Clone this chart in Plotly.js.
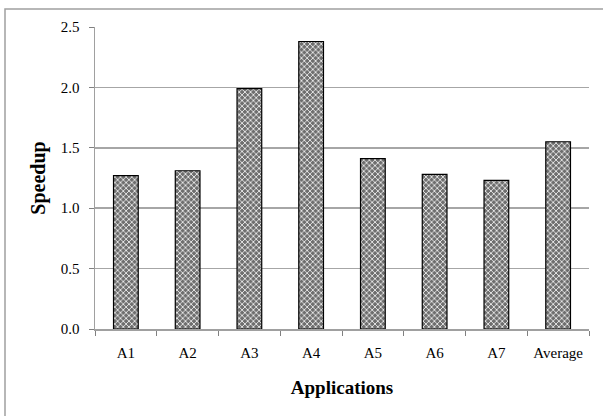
<!DOCTYPE html>
<html><head><meta charset="utf-8">
<script src="https://cdn.plot.ly/plotly-3.0.1.min.js"></script>
<style>body{margin:0;padding:0;background:#fff}#chart{width:603px;height:416px}</style>
</head><body><div id="chart"></div>
<script>
var categories = ['A1','A2','A3','A4','A5','A6','A7','Average'];
var speedup = [1.27, 1.31, 1.99, 2.38, 1.41, 1.28, 1.23, 1.55];
var yTicks = [0, 0.5, 1.0, 1.5, 2.0, 2.5];
var yTickLabels = ['0.0','0.5','1.0','1.5','2.0','2.5'];

var font = '"Liberation Serif", serif';
var trace = {
  type: 'bar', x: categories, y: speedup,
  marker: {
    color: '#777',
    line: {color: '#000', width: 1.2},
    pattern: {shape: 'x', fgcolor: '#ffffff', bgcolor: '#6e6e6e', size: 4, solidity: 0.35, fillmode: 'replace'}
  },
  hoverinfo: 'skip'
};
var layout = {
  width: 603, height: 416,
  margin: {l: 95, r: 14, t: 27, b: 87, pad: 0},
  paper_bgcolor: '#fff', plot_bgcolor: '#fff',
  showlegend: false, bargap: 0.6,
  font: {family: font, size: 15, color: '#000'},
  xaxis: {
    type: 'category', showgrid: false, showline: true, linecolor: '#a0a0a0', linewidth: 1.5,
    ticks: 'outside', tickson: 'boundaries', ticklen: 5, tickcolor: '#808080', tickwidth: 1,
    ticklabelstandoff: 9,
    tickfont: {family: font, size: 15, color: '#000'},
    title: {text: '<b>Applications</b>', font: {family: font, size: 19, color: '#000'}, standoff: 21}
  },
  yaxis: {
    range: [0, 2.5], tickvals: yTicks, ticktext: yTickLabels,
    showgrid: true, gridcolor: '#a6a6a6', gridwidth: 1.5, zeroline: false,
    showline: true, linecolor: '#a0a0a0', linewidth: 1.5,
    ticks: 'outside', ticklen: 5, tickcolor: '#808080', tickwidth: 1, ticklabelstandoff: 6,
    tickfont: {family: font, size: 15, color: '#000'},
    title: {text: '<b>Speedup</b>', font: {family: font, size: 20, color: '#000'}, standoff: 10}
  },
  shapes: [{
    type: 'rect', xref: 'paper', yref: 'paper',
    x0: (5-95)/494, x1: (605-95)/494, y0: (329-420)/302, y1: (329-9)/302,
    line: {color: '#a0a0a0', width: 1.5}, fillcolor: 'rgba(0,0,0,0)', layer: 'below'
  }]
};
Plotly.newPlot('chart', [trace], layout, {staticPlot: true, displayModeBar: false});
</script></body></html>
